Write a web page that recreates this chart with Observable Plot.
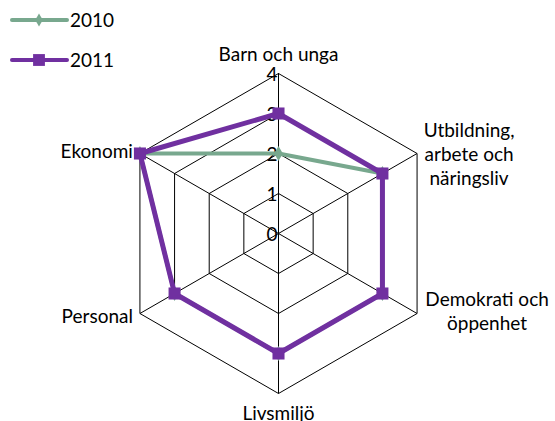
<!DOCTYPE html>
<html><head><meta charset="utf-8">
<script src="https://cdn.jsdelivr.net/npm/d3@7"></script>
<script src="https://cdn.jsdelivr.net/npm/@observablehq/plot@0.6"></script>
<style>
body{margin:0;background:#fff;font-family:Lato,"DejaVu Sans",sans-serif;}
#wrap{position:relative;width:555px;height:421px;}
#legend{position:absolute;left:0;top:0;}
</style></head><body><div id="wrap"><div id="chart"></div><div id="legend"></div></div>
<script>
const categories = ["Barn och unga","Utbildning,\narbete och\nnäringsliv","Demokrati och\nöppenhet","Livsmiljö","Personal","Ekonomi"];
const seriesNames = ["2010","2011"];
const values2010 = [2,3,3,3,3,4];
const values2011 = [3,3,3,3,3,4];
const tickValues = [0,1,2,3,4];

// styling / layout
const colors = ["#78a88e","#7030a0"];
const symbols = ["diamond","square"];
const FS = 19;
const labelLayout = [
  {anchor:"middle", dx:0, dy:-20},
  {anchor:"middle", dx:52, dy:0},
  {anchor:"middle", dx:70, dy:-3},
  {anchor:"middle", dx:0, dy:19},
  {anchor:"end", dx:-7, dy:2},
  {anchor:"end", dx:-7, dy:-3}
];

const n = categories.length;
const maxV = tickValues[tickValues.length-1];
const ang = i => i * 2 * Math.PI / n;
const px = (v,i) => v * Math.sin(ang(i));
const py = (v,i) => v * Math.cos(ang(i));

const rings = tickValues.filter(t => t > 0).flatMap(t =>
  d3.range(n+1).map(j => ({t, x: px(t, j % n), y: py(t, j % n)})));
const spokes = categories.map((c,i) => ({x1:0,y1:0,x2:px(maxV,i),y2:py(maxV,i)}));
const allSeries = [values2010, values2011];
const seriesPts = allSeries.flatMap((vals,s) =>
  d3.range(n+1).map(j => ({s, x: px(vals[j%n], j%n), y: py(vals[j%n], j%n)})));
const ticks = tickValues.map(t => ({t, x:0, y:t}));
const labels = categories.map((c,i) => ({c, i, x:px(maxV,i), y:py(maxV,i)}));

const marks = [
  Plot.line(rings, {x:"x", y:"y", z:"t", stroke:"#000", strokeWidth:1}),
  Plot.link(spokes, {x1:"x1", y1:"y1", x2:"x2", y2:"y2", stroke:"#000", strokeWidth:1}),
  Plot.text(ticks, {x:"x", y:"y", text: d => String(d.t), textAnchor:"end", dx:-1, dy:1, fontSize:FS, fill:"#000"})
];
allSeries.forEach((vals,s) => {
  marks.push(Plot.line(seriesPts.filter(d => d.s === s), {x:"x", y:"y", stroke:colors[s], strokeWidth: s===1?5:4, strokeLinejoin:"round"}));
  marks.push(Plot.dot(seriesPts.filter(d => d.s === s).slice(0,n), {x:"x", y:"y", symbol:symbols[s], r: s===1?6.8:4.5, fill:colors[s], stroke:"none"}));
});
labels.forEach((d,i) => {
  const L = labelLayout[i];
  marks.push(Plot.text([d], {x:"x", y:"y", text:"c", textAnchor:L.anchor, dx:L.dx, dy:L.dy, fontSize:FS, lineHeight:1.25, fill:"#000"}));
});

const chart = Plot.plot({
  width:555, height:421, margin:0,
  x:{domain:[-278/40, 277/40], axis:null},
  y:{domain:[-188/40, 233/40], axis:null},
  style:{fontFamily:'Lato, "DejaVu Sans", sans-serif', background:"#fff"},
  marks
});
document.getElementById("chart").appendChild(chart);

// legend
const lg = d3.select("#legend").append("svg").attr("width",140).attr("height",80);
seriesNames.forEach((name,s) => {
  const yy = 20 + s*40;
  const g = lg.append("g");
  g.append("line").attr("x1",12).attr("x2",67).attr("y1",yy).attr("y2",yy)
    .attr("stroke",colors[s]).attr("stroke-width",4).attr("stroke-linecap","round");
  g.append("path").attr("transform",`translate(39,${yy})`)
    .attr("d", d3.symbol(s===0?d3.symbolDiamond:d3.symbolSquare, s===0?50:140)())
    .attr("fill",colors[s]);
  g.append("text").attr("x",70).attr("y",yy).attr("dy","0.35em")
    .attr("font-size",FS).attr("font-family",'Lato, "DejaVu Sans", sans-serif').text(name);
});
</script></body></html>
